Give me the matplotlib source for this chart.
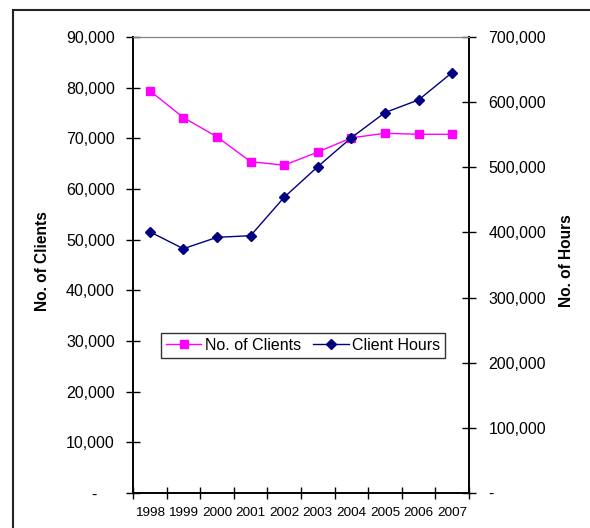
import numpy as np
import matplotlib.pyplot as plt
from matplotlib.patches import Rectangle
from matplotlib.ticker import FuncFormatter, FixedLocator

plt.rcParams['font.family'] = ['Liberation Sans', 'DejaVu Sans']

years = ['1998', '1999', '2000', '2001', '2002', '2003', '2004', '2005', '2006', '2007']
clients = [79400, 74100, 70300, 65400, 64700, 67300, 70100, 71000, 70800, 70800]
hours = [401000, 375000, 392500, 395000, 454000, 501000, 545500, 584000, 603500, 645500]

pink = '#FF00FF'
navy = '#000080'


def left_fmt(v, pos):
    if v == 0:
        return '-    '
    return f'{int(v):,}'


def right_fmt(v, pos):
    if v == 0:
        return '-'
    return f'{int(v):,}'


fig = plt.figure(figsize=(5.9, 5.28), dpi=100)
ax = fig.add_axes([0.2254, 0.0663, 0.5695, 0.8636])
ax2 = ax.twinx()

x = np.arange(len(years))
l1, = ax.plot(x, clients, color=pink, lw=1.0, marker='s', markersize=5.5,
              markeredgecolor=pink, label='No. of Clients')
l2, = ax2.plot(x, hours, color=navy, lw=1.0, marker='D', markersize=5,
               markeredgecolor=navy, label='Client Hours')

ax.set_xlim(-0.5, len(years) - 0.5)
ax.set_ylim(0, 90000)
ax2.set_ylim(0, 700000)

# 类别边界处画刻度，年份标在中间
ax.xaxis.set_major_locator(FixedLocator(np.arange(-0.5, len(years), 1.0)))
ax.xaxis.set_minor_locator(FixedLocator(x))
ax.set_xticklabels([], minor=False)
ax.set_xticklabels(years, minor=True, fontsize=9.7)
ax.tick_params(axis='x', which='major', direction='inout', length=9, width=1)
ax.tick_params(axis='x', which='minor', length=0, pad=10)

ax.set_yticks(np.arange(0, 90001, 10000))
ax.yaxis.set_major_formatter(FuncFormatter(left_fmt))
ax.tick_params(axis='y', direction='inout', length=10, width=1, labelsize=11.5, pad=8)

ax2.set_yticks(np.arange(0, 700001, 100000))
ax2.yaxis.set_major_formatter(FuncFormatter(right_fmt))
ax2.tick_params(axis='y', direction='inout', length=10, width=1, labelsize=11.5, pad=9)

for a in (ax, ax2):
    a.spines['top'].set_color('#808080')
    a.spines['left'].set_linewidth(1.2)
    a.spines['right'].set_linewidth(1.2)
    a.spines['bottom'].set_linewidth(1.2)

fig.text(0.072, 0.505, 'No. of Clients', rotation=90, ha='center', va='center',
         fontsize=11.2, fontweight='bold')
fig.text(0.961, 0.507, 'No. of Hours', rotation=90, ha='center', va='center',
         fontsize=11.2, fontweight='bold')

leg = fig.legend(handles=[l1, l2], loc='center', bbox_to_anchor=(0.5136, 0.3456),
                 ncol=2, fontsize=11.5, frameon=True, fancybox=False,
                 edgecolor='black', handlelength=2.2, handletextpad=0.2,
                 columnspacing=0.8, borderpad=0.3, borderaxespad=0)
leg.get_frame().set_linewidth(1.0)

# 外框
fig.patches.append(Rectangle((13 / 590, -0.1), 1.2, 1.1 - 10 / 528,
                             transform=fig.transFigure, fill=False,
                             edgecolor='#222222', linewidth=1.5))

plt.savefig('out.png', dpi=100)
